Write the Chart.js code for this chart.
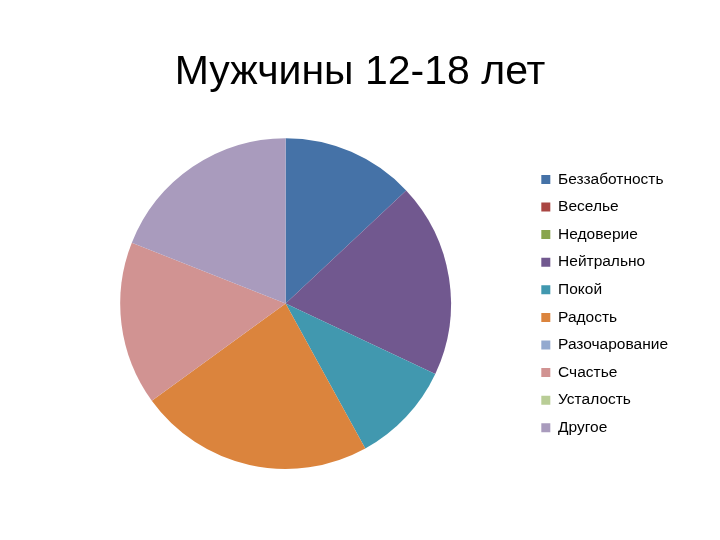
<!DOCTYPE html>
<html>
<head>
<meta charset="utf-8">
<script src="https://cdn.jsdelivr.net/npm/chart.js@4.4.1/dist/chart.umd.min.js"></script>
<style>
  html, body { margin: 0; padding: 0; background: #fff; }
  #wrap { width: 720px; height: 540px; }
</style>
</head>
<body>
<div id="wrap"><canvas id="pie" width="720" height="540"></canvas></div>
<script>
const titleText = 'Мужчины 12-18 лет';
const labels = ['Беззаботность', 'Веселье', 'Недоверие', 'Нейтрально', 'Покой',
  'Радость', 'Разочарование', 'Счастье', 'Усталость', 'Другое'];
const values = [13, 0, 0, 19, 10, 23, 0, 16, 0, 19];
const colors = ['#4572A7', '#AA4643', '#89A54E', '#71588F', '#4198AF',
  '#DB843D', '#93A9CF', '#D19392', '#B9CD96', '#A99BBD'];

const ctx = document.getElementById('pie').getContext('2d');
new Chart(ctx, {
  type: 'pie',
  data: {
    labels: labels,
    datasets: [{ data: values, backgroundColor: colors, borderWidth: 0 }]
  },
  options: {
    responsive: false,
    animation: false,
    layout: { padding: { left: 42, right: 42, top: 0, bottom: 71 } },
    plugins: {
      title: {
        display: true,
        text: titleText,
        color: '#000',
        font: { family: 'Liberation Sans', size: 41, weight: 'normal', lineHeight: 1.2 },
        padding: { top: 48, bottom: 41 }
      },
      legend: {
        position: 'right',
        fullSize: false,
        labels: {
          color: '#000',
          boxWidth: 9,
          boxHeight: 9,
          padding: 12.1,
          font: { family: 'Liberation Sans', size: 15.5 }
        }
      },
      tooltip: { enabled: false }
    }
  }
});
</script>
</body>
</html>
